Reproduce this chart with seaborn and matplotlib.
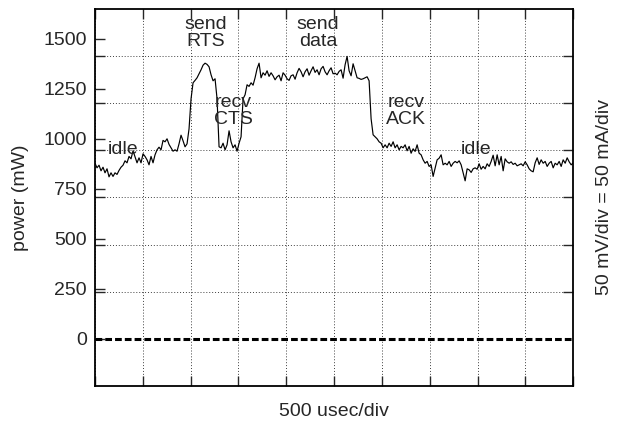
import numpy as np
import matplotlib
matplotlib.use("Agg")
import matplotlib.pyplot as plt
import seaborn as sns

# scope trace, one sample every ~21 usec
sample_us = 20.92
power_mw = [
    878, 855, 868, 840, 858, 830, 850, 810, 830, 812,
    830, 822, 842, 858, 868, 890, 880, 912, 900, 940,
    910, 880, 905, 880, 925, 912, 895, 870, 912, 880,
    920, 945, 958, 945, 992, 985, 1000, 972, 955, 938,
    945, 938, 975, 1018, 990, 960, 975, 1050, 1200, 1280,
    1292, 1305, 1325, 1345, 1368, 1378, 1372, 1360, 1320, 1290,
    1300, 1200, 960,
    955, 978, 945, 970, 1040, 985, 955, 970, 938, 978,
    1010, 1200, 1220, 1270, 1262, 1280, 1268, 1305, 1350, 1378,
    1305, 1330, 1318, 1340, 1312, 1330, 1315, 1295, 1310, 1318,
    1290, 1330, 1318, 1300, 1292, 1315, 1320, 1298, 1330, 1352,
    1335, 1310, 1335, 1350, 1318, 1340, 1360, 1332, 1345, 1320,
    1350, 1362, 1335, 1320, 1340, 1355, 1325,
    1328, 1320, 1337, 1345, 1303, 1370, 1412, 1340, 1315, 1375,
    1340, 1305, 1302, 1297, 1300, 1305, 1310, 1290, 1100, 1020,
    1010, 1000, 985, 978, 955, 970, 955, 978, 962, 985,
    955, 970, 945, 962, 955, 970, 940, 962, 928, 950,
    937, 970, 928, 920, 895, 878, 887, 862, 870, 812,
    853, 895, 903, 920, 870, 878, 870, 887, 862, 878,
    887,
    880, 890, 870, 830, 790, 850, 845, 832, 850, 855,
    848, 875, 848, 862, 850, 875, 862, 887, 918, 865,
    920, 870, 912, 840, 900, 885, 878, 885, 872, 878,
    865, 870, 875, 865, 885, 870, 850, 840, 835, 880,
    905, 872, 895, 878, 887, 862, 878, 887, 855, 878,
    870, 887, 862, 895, 878, 905, 885, 870, 880,
]
time_us = np.arange(len(power_mw)) * sample_us

zero_level = 0

# annotations: text, time (usec), power (mW)
notes = [
    ("send\nRTS", 1161, 1530),
    ("send\ndata", 2333, 1530),
    ("recv\nCTS", 1444, 1140),
    ("recv\nACK", 3253, 1140),
    ("idle", 293, 945),
    ("idle", 3986, 945),
]

power_ticks = [0, 250, 500, 750, 1000, 1250, 1500]
usec_per_div = 500
n_xdiv = 10
mw_per_div = 235.6

sns.set_style("ticks")
plt.rcParams['font.family'] = ['Liberation Sans', 'DejaVu Sans']

fig = plt.figure(figsize=(6.21, 4.29), dpi=100)
ax = fig.add_axes([0.153, 0.1002, 0.770, 0.879])

sns.lineplot(x=time_us, y=power_mw, ax=ax, color='black', lw=0.85)
ax.axhline(zero_level, color='black', lw=2.2, linestyle=(0, (2.2, 1.0)), zorder=3)

for txt, tx, ty in notes:
    ax.text(tx, ty, txt, ha='center', va='center', fontsize=14, linespacing=1.0)

ax.set_xlim(0, usec_per_div * n_xdiv)
ax.set_ylim(-mw_per_div, 7 * mw_per_div)

ax.set_xticks(np.arange(0, n_xdiv + 1) * usec_per_div)
ax.set_xticklabels([])
ax.set_yticks(power_ticks)
ax.set_yticks(np.arange(0, 7) * mw_per_div, minor=True)

ax.tick_params(axis='x', which='major', direction='in', top=True, bottom=True, length=7, width=1)
ax.tick_params(axis='y', which='major', direction='in', left=True, right=False, length=7, width=1,
               labelsize=14, pad=6)
ax.tick_params(axis='y', which='minor', direction='in', left=True, right=True, length=7, width=1)
ax.tick_params(axis='x', which='minor', bottom=False, top=False)

ax.grid(which='major', axis='x', color='0.25', lw=0.7, linestyle=(0, (1, 2)))
ax.grid(which='minor', axis='y', color='0.25', lw=0.7, linestyle=(0, (1, 2)))
ax.grid(which='major', axis='y', visible=False)

for s in ax.spines.values():
    s.set_linewidth(1.3)
    s.set_color('black')

ax.set_xlabel("500 usec/div", fontsize=14, labelpad=9)
ax.set_ylabel("power (mW)", fontsize=14, labelpad=10)
fig.text(0.974, 0.54, "50 mV/div = 50 mA/div", rotation=90, ha='center', va='center', fontsize=14)

fig.savefig("out.png", dpi=100)
